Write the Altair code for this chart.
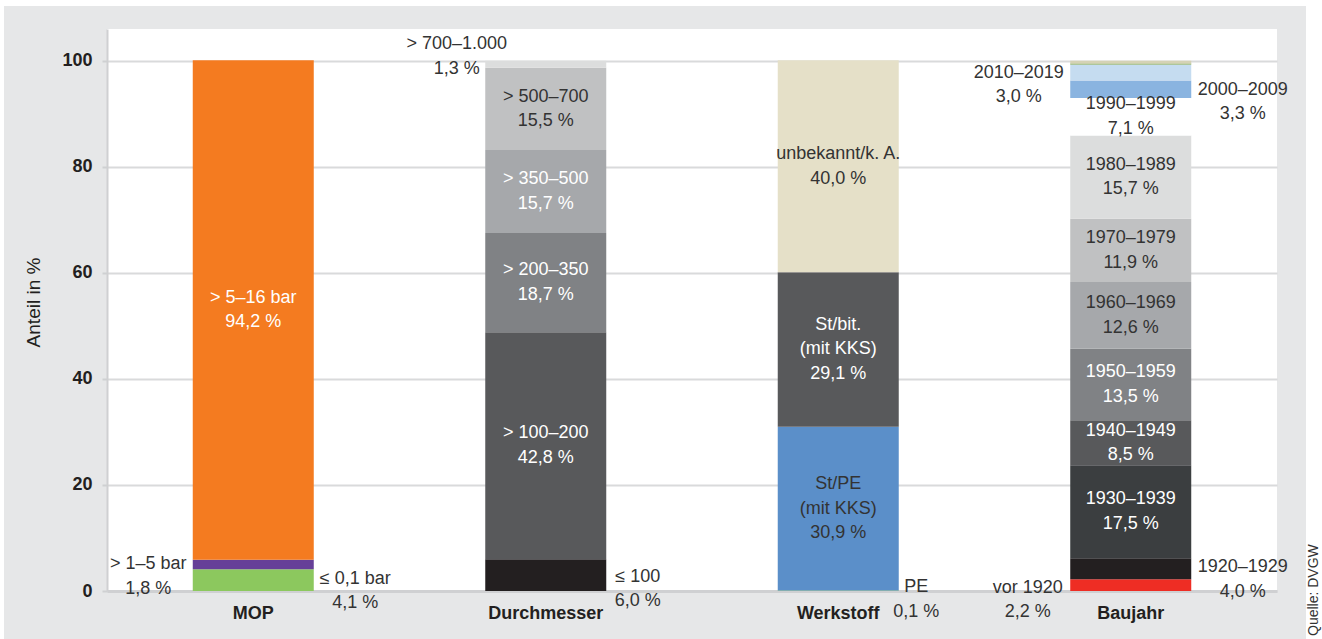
import altair as alt
import pandas as pd

# ---------------- data ----------------
categories = ["MOP", "Durchmesser", "Werkstoff", "Baujahr"]

mop_names = ["≤ 0,1 bar", "> 1–5 bar", "> 5–16 bar"]
mop_values = [4.1, 1.8, 94.2]

dm_names = ["≤ 100", "> 100–200", "> 200–350", "> 350–500", "> 500–700", "> 700–1.000"]
dm_values = [6.0, 42.8, 18.7, 15.7, 15.5, 1.3]

ws_names = ["PE", "St/PE\n(mit KKS)", "St/bit.\n(mit KKS)", "unbekannt/k. A."]
ws_values = [0.1, 30.9, 29.1, 40.0]

bj_names = ["vor 1920", "1920–1929", "1930–1939", "1940–1949", "1950–1959",
            "1960–1969", "1970–1979", "1980–1989", "1990–1999", "2000–2009",
            "2010–2019", "ab 2020", "k. A."]
bj_values = [2.2, 4.0, 17.5, 8.5, 13.5, 12.6, 11.9, 15.7, 7.1, 3.3, 3.0, 0.2, 0.5]

y_ticks = [0, 20, 40, 60, 80, 100]

# ---------------- styles ----------------
mop_colors = ["#8cc85e", "#663f98", "#f47b20"]
dm_colors = ["#231f20", "#58595b", "#808285", "#a6a8ab", "#c0c1c2", "#dcdddd"]
ws_colors = ["#8cc85e", "#5b8fc9", "#58595b", "#e5e0c8"]
bj_colors = ["#ee2d24", "#231f20", "#3b3e40", "#58595b", "#808285", "#a6a8ab",
             "#c0c1c2", "#dcdddd", "#ffffff", "#8ab4e0", "#c5dcf0", "#78a040", "#d5d2b5"]

DARK = "#333333"
LH = 24.5
dark_text = {"> 500–700", "unbekannt/k. A.", "St/PE\n(mit KKS)", "1960–1969",
             "1970–1979", "1980–1989", "1990–1999"}
hidden = {"ab 2020", "k. A."}
# outside label offsets (dx, dy of the block centre) in pixels
outside = {
    ("MOP", "> 1–5 bar"): (-105, 12),
    ("MOP", "≤ 0,1 bar"): (102, 11),
    ("Durchmesser", "> 700–1.000"): (-89, -8),
    ("Durchmesser", "≤ 100"): (92, 14),
    ("Werkstoff", "PE"): (78, 9),
    ("Baujahr", "vor 1920"): (-103, 15),
    ("Baujahr", "1920–1929"): (112, 11),
    ("Baujahr", "2000–2009"): (112, 13),
    ("Baujahr", "2010–2019"): (-112, 12.5),
}

FONT = "Liberation Sans"

rows = []
for cat, names, vals, cols in [
    ("MOP", mop_names, mop_values, mop_colors),
    ("Durchmesser", dm_names, dm_values, dm_colors),
    ("Werkstoff", ws_names, ws_values, ws_colors),
    ("Baujahr", bj_names, bj_values, bj_colors),
]:
    cum = 0.0
    for i, (n, v, c) in enumerate(zip(names, vals, cols)):
        label = n + "\n" + f"{v:.1f}".replace(".", ",") + " %"
        rows.append(dict(cat=cat, name=n, value=v, color=c, idx=i,
                         y0=cum, y1=cum + v, mid=cum + v / 2,
                         label=label, nlines=label.count("\n") + 1,
                         tcolor=DARK if n in dark_text else "#ffffff"))
        cum += v
df = pd.DataFrame(rows)

W, H = 1170, 562
xscale = alt.Scale(domain=categories, paddingInner=0.5863, paddingOuter=0.2932)
yscale = alt.Scale(domain=[0, 106], nice=False, zero=True)

x_enc = alt.X("cat:N", scale=xscale, sort=categories,
              axis=alt.Axis(title=None, labelAngle=0, ticks=False,
                            domainColor="#cfd0d2", domainWidth=3,
                            labelFont=FONT, labelFontWeight="bold",
                            labelFontSize=18, labelColor="#231f20",
                            labelPadding=13, grid=False))

# decorative white margins of the grey panel
one = pd.DataFrame({"a": [0]})
deco = alt.Chart(one).mark_rect(color="white").encode(
    x=alt.value(-107), x2=alt.value(W + 45), y=alt.value(-29), y2=alt.value(-23))
deco_r = alt.Chart(one).mark_rect(color="white").encode(
    x=alt.value(1199), x2=alt.value(W + 45), y=alt.value(-29), y2=alt.value(H + 48))
deco_l = alt.Chart(one).mark_rect(color="white").encode(
    x=alt.value(-107), x2=alt.value(-103), y=alt.value(-29), y2=alt.value(H + 48))

bars = alt.Chart(df).mark_bar(size=121).encode(
    x=x_enc,
    y=alt.Y("y0:Q", scale=yscale,
            axis=alt.Axis(title="Anteil in %", values=y_ticks, grid=True,
                          gridColor="#d9dadb", gridWidth=2,
                          domainColor="#cfd0d2", domainWidth=2,
                          tickColor="#cfd0d2", tickSize=5, tickWidth=2,
                          labelFont=FONT, labelFontWeight="bold",
                          labelFontSize=18, labelColor="#231f20",
                          labelPadding=10,
                          titleFont=FONT, titleFontWeight="normal",
                          titleFontSize=19, titleColor="#231f20",
                          titleX=-74, titleY=273, titleAngle=270,
                          titleAlign="center", titleBaseline="middle")),
    y2="y1:Q",
    color=alt.Color("color:N", scale=None),
)

layers = [deco, deco_r, deco_l, bars]

inside_mask = [(c, n) not in outside and n not in hidden
               for c, n in zip(df["cat"], df["name"])]
inside_df = df[inside_mask]
for nl in sorted(inside_df["nlines"].unique()):
    sub = inside_df[inside_df["nlines"] == nl]
    layers.append(alt.Chart(sub).mark_text(
        font=FONT, fontSize=18, lineBreak="\n", lineHeight=LH,
        baseline="middle", align="center", dy=-(nl - 1) * LH / 2).encode(
        x=alt.X("cat:N", scale=xscale, sort=categories),
        y=alt.Y("mid:Q", scale=yscale),
        text="label:N",
        color=alt.Color("tcolor:N", scale=None),
    ))

for (cat, name), (dx, dy) in outside.items():
    sub = df[(df["cat"] == cat) & (df["name"] == name)]
    nl = int(sub["nlines"].iloc[0])
    layers.append(alt.Chart(sub).mark_text(
        font=FONT, fontSize=18, lineBreak="\n", lineHeight=LH,
        baseline="middle", align="center", dx=dx,
        dy=dy - (nl - 1) * LH / 2, color=DARK).encode(
        x=alt.X("cat:N", scale=xscale, sort=categories),
        y=alt.Y("mid:Q", scale=yscale),
        text="label:N"))

source = alt.Chart(pd.DataFrame({"t": ["Quelle: DVGW"]})).mark_text(
    font=FONT, fontSize=14, angle=270, align="left", baseline="middle",
    color=DARK).encode(x=alt.value(1207), y=alt.value(607), text="t:N")
layers.append(source)

chart = alt.layer(*layers).properties(
    width=W, height=H,
    autosize=alt.AutoSizeParams(type="none"),
    padding={"left": 107, "top": 29, "right": 45, "bottom": 48},
    background="#e6e7e8",
).configure_view(fill="white", stroke=None)

chart.save("out.html", embed_options={"renderer": "svg", "actions": False})
